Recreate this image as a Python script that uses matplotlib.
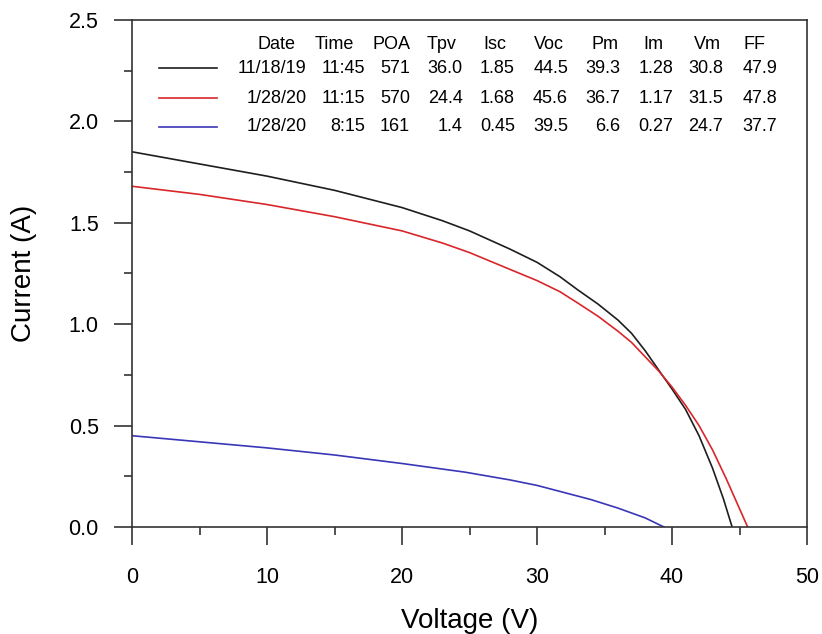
#!/usr/bin/env python3
"""
I-V curves of the PV module at three test conditions, with the summary table
drawn inside the plot area.
"""

import matplotlib
matplotlib.use("Agg")
import matplotlib.pyplot as plt
from matplotlib.ticker import MultipleLocator

plt.rcParams['font.family'] = ['Liberation Sans', 'DejaVu Sans']

# === Data ===
v_black = [0, 5, 10, 15, 20, 23, 25, 28, 30, 31.7, 33, 34.5, 36, 37, 38, 39, 40, 41, 42,
           43, 43.8, 44.45]
i_black = [1.85, 1.79, 1.73, 1.66, 1.575, 1.51, 1.46, 1.37, 1.305, 1.234, 1.17, 1.10, 1.02,
           0.955, 0.87, 0.775, 0.68, 0.58, 0.45, 0.29, 0.14, 0.0]

v_red = [0, 5, 10, 15, 20, 23, 25, 28, 30, 31.7, 33, 34.5, 36, 37, 38, 39, 40, 41, 42, 43,
         44, 44.8, 45.6]
i_red = [1.68, 1.64, 1.59, 1.53, 1.46, 1.40, 1.353, 1.27, 1.215, 1.16, 1.105, 1.04, 0.965,
         0.91, 0.84, 0.77, 0.69, 0.60, 0.50, 0.38, 0.24, 0.12, 0.0]

v_blue = [0, 5, 10, 15, 20, 24.7, 26, 28, 30, 32, 34, 36, 38, 39.4]
i_blue = [0.45, 0.42, 0.39, 0.355, 0.313, 0.27, 0.255, 0.232, 0.205, 0.17, 0.135, 0.093,
          0.045, 0.0]

headers = ['Date', 'Time', 'POA', 'Tpv', 'Isc', 'Voc', 'Pm', 'Im', 'Vm', 'FF']
row_black = ['11/18/19', '11:45', '571', '36.0', '1.85', '44.5', '39.3', '1.28', '30.8', '47.9']
row_red = ['1/28/20', '11:15', '570', '24.4', '1.68', '45.6', '36.7', '1.17', '31.5', '47.8']
row_blue = ['1/28/20', '8:15', '161', '1.4', '0.45', '39.5', '6.6', '0.27', '24.7', '37.7']

# (values, I-V curve, line colour)
series = [
    (row_black, v_black, i_black, '#1e1e1e'),
    (row_red, v_red, i_red, '#d9262b'),
    (row_blue, v_blue, i_blue, '#3a36b8'),
]

# table layout in axes fraction
header_x = [0.214, 0.299, 0.384, 0.459, 0.538, 0.618, 0.701, 0.772, 0.852, 0.922]
value_x = [0.259, 0.345, 0.412, 0.490, 0.567, 0.646, 0.723, 0.802, 0.876, 0.956]
header_y = 0.951
row_y = [0.905, 0.846, 0.789]
key_x = (0.040, 0.126)


def create_iv_plot():
    fig = plt.figure(figsize=(8.22, 6.34), dpi=100)
    ax = fig.add_axes([0.1606, 0.1688, 0.8212, 0.7997])

    for (vals, v, i, color), y in zip(series, row_y):
        ax.plot(v, i, color=color, lw=1.2)
        # legend key + table row
        ax.plot(key_x, (y, y), color=color, lw=1.2, transform=ax.transAxes)
        for x, txt in zip(value_x, vals):
            ax.text(x, y, txt, transform=ax.transAxes, ha='right', va='center',
                    fontsize=13)

    for x, txt in zip(header_x, headers):
        ax.text(x, header_y, txt, transform=ax.transAxes, ha='center', va='center',
                fontsize=13)

    ax.set_xlim(0, 50)
    ax.set_ylim(0, 2.5)
    ax.xaxis.set_major_locator(MultipleLocator(10))
    ax.xaxis.set_minor_locator(MultipleLocator(5))
    ax.yaxis.set_major_locator(MultipleLocator(0.5))
    ax.yaxis.set_minor_locator(MultipleLocator(0.25))
    ax.yaxis.set_major_formatter(plt.FormatStrFormatter('%.1f'))

    ax.tick_params(which='both', direction='out', width=1.2, color='#333333',
                   labelsize=15.5, top=False, right=False)
    ax.tick_params(which='major', length=13)
    ax.tick_params(which='minor', length=6)
    ax.tick_params(axis='x', which='major', pad=16)
    ax.tick_params(axis='y', which='major', pad=11)

    for sp in ax.spines.values():
        sp.set_linewidth(1.2)
        sp.set_color('#333333')

    ax.set_xlabel('Voltage (V)', fontsize=20)
    ax.set_ylabel('Current (A)', fontsize=20)
    ax.xaxis.set_label_coords(0.5, -0.16)
    ax.yaxis.set_label_coords(-0.141, 0.5)

    fig.savefig('out.png', dpi=100)
    plt.close(fig)


if __name__ == "__main__":
    create_iv_plot()
